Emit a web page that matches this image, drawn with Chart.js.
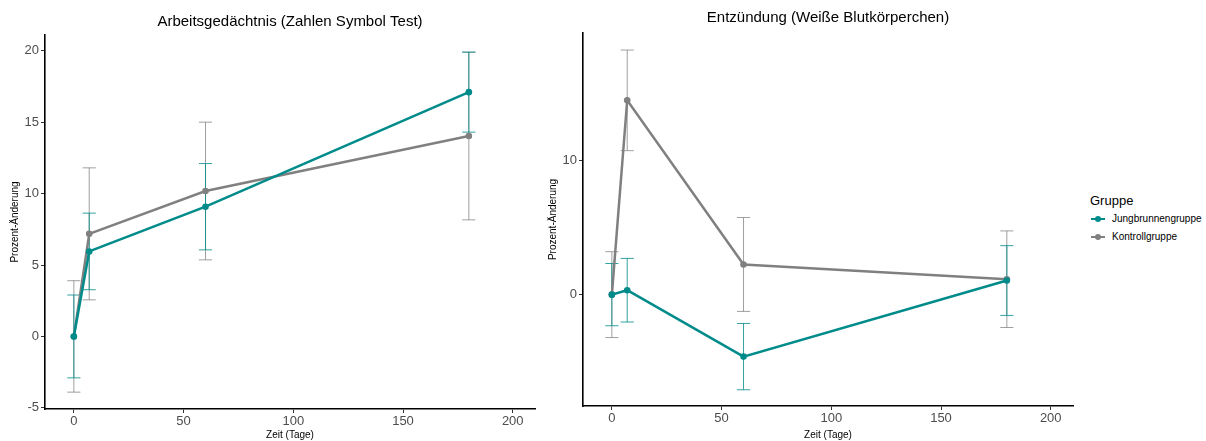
<!DOCTYPE html>
<html><head><meta charset="utf-8">
<script src="https://cdn.jsdelivr.net/npm/chart.js@4.4.0/dist/chart.umd.min.js"></script>
<style>
html,body{margin:0;padding:0;background:#fff;width:1206px;height:441px;overflow:hidden;font-family:"Liberation Sans",Arial,sans-serif;}
#c1{position:absolute;left:0;top:0;}
#c2{position:absolute;left:538px;top:0;}
#legend{position:absolute;left:1090px;top:192px;color:#000;}
#legend .ttl{font-size:13px;line-height:18px;height:18px;}
#legend .it{position:relative;height:18px;line-height:18px;font-size:10px;padding-left:22px;white-space:nowrap;}
#legend .ln{position:absolute;left:1px;top:8px;width:14px;height:2px;}
#legend .dt{position:absolute;left:5px;top:6px;width:6px;height:6px;border-radius:50%;}
</style></head><body>
<canvas id="c1" width="540" height="441"></canvas>
<canvas id="c2" width="540" height="441"></canvas>
<div id="legend"></div>
<script>
// ---- data ----
const days = [0, 7, 60, 180];
const seriesNames = ['Jungbrunnengruppe', 'Kontrollgruppe'];
const legendTitle = 'Gruppe';
const memoryJung = [0, 5.95, 9.08, 17.1];
const memoryJungErr = [2.9, 2.68, 3.02, 2.8];
const memoryCtrl = [0, 7.18, 10.18, 14.03];
const memoryCtrlErr = [3.9, 4.62, 4.82, 5.87];
const inflJung = [0, 0.33, -4.62, 1.05];
const inflJungErr = [2.32, 2.37, 2.47, 2.6];
const inflCtrl = [0, 14.48, 2.25, 1.15];
const inflCtrlErr = [3.2, 3.75, 3.5, 3.6];
const xTicks = [0, 50, 100, 150, 200];
const memoryYTicks = [-5, 0, 5, 10, 15, 20];
const inflYTicks = [0, 10];
const titles = ['Arbeitsgedächtnis (Zahlen Symbol Test)', 'Entzündung (Weiße Blutkörperchen)'];
const xTitle = 'Zeit (Tage)';
const yTitle = 'Prozent-Änderung';

const colors = ['#008b8b', '#808080'];
const errColors = ['rgba(0,139,139,0.8)', 'rgba(128,128,128,0.75)'];
const FONT = "'Liberation Sans', Arial, sans-serif";

const errorBars = {
  id: 'errorBars',
  beforeDatasetsDraw(chart, args, opts) {
    const {ctx, scales: {x, y}} = chart;
    const half = opts.capHalf;
    for (let i = chart.data.datasets.length - 1; i >= 0; i--) {
      const ds = chart.data.datasets[i];
      const errs = opts.errors[i];
      ctx.save();
      ctx.strokeStyle = errColors[i];
      ctx.lineWidth = 1;
      ds.data.forEach((p, j) => {
        const px = x.getPixelForValue(p.x);
        const yt = y.getPixelForValue(p.y + errs[j]);
        const yb = y.getPixelForValue(p.y - errs[j]);
        const xl = x.getPixelForValue(p.x - half);
        const xr = x.getPixelForValue(p.x + half);
        ctx.beginPath();
        ctx.moveTo(px, yt); ctx.lineTo(px, yb);
        ctx.moveTo(xl, yt); ctx.lineTo(xr, yt);
        ctx.moveTo(xl, yb); ctx.lineTo(xr, yb);
        ctx.stroke();
      });
      ctx.restore();
    }
  }
};

const panelTitle = {
  id: 'panelTitle',
  afterDraw(chart, args, opts) {
    const {ctx, chartArea} = chart;
    ctx.save();
    ctx.font = '15px ' + FONT;
    ctx.fillStyle = '#000';
    ctx.textAlign = 'center';
    ctx.textBaseline = 'middle';
    ctx.fillText(opts.text, (chartArea.left + chartArea.right) / 2, opts.y);
    ctx.restore();
  }
};

function makeChart(id, title, titleY, jung, jungErr, ctrl, ctrlErr, yMin, yMax, yTicks, topPad, xAxisH) {
  const mk = (vals) => days.map((d, i) => ({x: d, y: vals[i]}));
  const axisCommon = {
    border: {display: true, color: '#000', width: 1.6},
    grid: {display: true, drawOnChartArea: false, drawTicks: true, tickLength: 4, tickColor: '#333', tickWidth: 1, color: '#333'},
  };
  return new Chart(document.getElementById(id), {
    type: 'line',
    data: {
      datasets: [
        {label: seriesNames[0], data: mk(jung), borderColor: colors[0], backgroundColor: colors[0], borderWidth: 2.5, pointRadius: 3.3, pointBorderWidth: 0, pointBackgroundColor: colors[0], tension: 0},
        {label: seriesNames[1], data: mk(ctrl), borderColor: colors[1], backgroundColor: colors[1], borderWidth: 2.5, pointRadius: 3.3, pointBorderWidth: 0, pointBackgroundColor: colors[1], tension: 0}
      ]
    },
    options: {
      responsive: false, animation: false, devicePixelRatio: 1,
      layout: {padding: {top: topPad, left: 0, right: 5, bottom: 0}},
      plugins: {
        legend: {display: false}, tooltip: {enabled: false},
        errorBars: {errors: [jungErr, ctrlErr], capHalf: 3},
        panelTitle: {text: title, y: titleY}
      },
      scales: {
        x: Object.assign({}, axisCommon, {
          type: 'linear', min: -13.15, max: 210.15,
          afterBuildTicks: (s) => { s.ticks = xTicks.map(v => ({value: v})); },
          afterFit: (s) => { s.height = xAxisH; s.paddingLeft = 0; s.paddingRight = 0; },
          ticks: {color: '#4d4d4d', font: {family: FONT, size: 13}, padding: 1, maxRotation: 0, autoSkip: false},
          title: {display: true, text: xTitle, color: '#000', font: {family: FONT, size: 10}, padding: {top: 0, bottom: 0}}
        }),
        y: Object.assign({}, axisCommon, {
          type: 'linear', min: yMin, max: yMax,
          afterBuildTicks: (s) => { s.ticks = yTicks.map(v => ({value: v})); },
          afterFit: (s) => { s.width = 45; s.paddingTop = 0; s.paddingBottom = 0; },
          ticks: {color: '#4d4d4d', font: {family: FONT, size: 13}, padding: 2, autoSkip: false},
          title: {display: true, text: yTitle, color: '#000', font: {family: FONT, size: 10}, padding: {top: 9, bottom: 0}}
        })
      }
    },
    plugins: [errorBars, panelTitle]
  });
}

makeChart('c1', titles[0], 22, memoryJung, memoryJungErr, memoryCtrl, memoryCtrlErr, -5.08, 21.1, memoryYTicks, 35, 32);
makeChart('c2', titles[1], 18, inflJung, inflJungErr, inflCtrl, inflCtrlErr, -8.3, 19.5, inflYTicks, 33, 35);

// legend
const lg = document.getElementById('legend');
let html = '<div class="ttl">' + legendTitle + '</div>';
seriesNames.forEach((n, i) => {
  html += '<div class="it"><span class="ln" style="background:' + colors[i] + '"></span><span class="dt" style="background:' + colors[i] + '"></span>' + n + '</div>';
});
lg.innerHTML = html;
</script>
</body></html>
